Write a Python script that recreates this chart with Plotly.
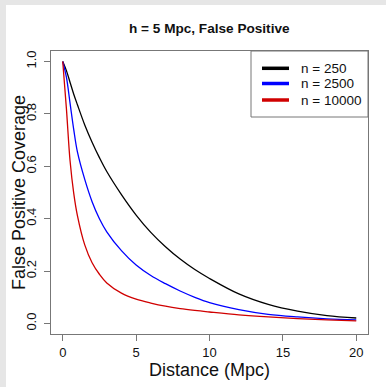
import plotly.graph_objects as go

# Coverage curves: distance grid (Mpc) and coverage per sample size
distance = [0, 0.25, 0.5, 0.75, 1, 1.5, 2, 2.5, 3, 4, 5, 6, 7, 8, 9, 10, 12, 14, 16, 18, 20]
cov_250 = [1.0, 0.965, 0.92, 0.875, 0.835, 0.758, 0.692, 0.633, 0.58, 0.492, 0.414, 0.348,
           0.293, 0.246, 0.206, 0.172, 0.113, 0.073, 0.047, 0.030, 0.021]
cov_2500 = [1.0, 0.94, 0.84, 0.74, 0.655, 0.55, 0.465, 0.40, 0.35, 0.278, 0.223, 0.183,
            0.152, 0.124, 0.100, 0.080, 0.053, 0.035, 0.025, 0.018, 0.014]
cov_10000 = [1.0, 0.82, 0.62, 0.497, 0.412, 0.30, 0.232, 0.188, 0.155, 0.116, 0.093, 0.078,
             0.066, 0.057, 0.050, 0.044, 0.033, 0.025, 0.019, 0.014, 0.010]

series_names = ["n = 250", "n = 2500", "n = 10000"]
series_values = [cov_250, cov_2500, cov_10000]
series_colors = ["#000000", "#0000ff", "#d00000"]

x_ticks = [0, 5, 10, 15, 20]
y_ticks = [0.0, 0.2, 0.4, 0.6, 0.8, 1.0]

FONT = "Liberation Sans, Arial, Helvetica, sans-serif"
W, H = 386, 387
ML, MR, MT, MB = 51, 18, 51, 53
PW, PH = W - ML - MR, H - MT - MB


def px_x(p):
    return (p - ML) / PW


def px_y(p):
    return (H - MB - p) / PH


fig = go.Figure()
for name, vals, col in zip(series_names, series_values, series_colors):
    fig.add_trace(go.Scatter(x=distance, y=vals, mode="lines", name=name,
                             line=dict(color=col, width=1.3, shape="spline", smoothing=1.0),
                             showlegend=False))

axis_col = "#777777"
fig.update_xaxes(range=[-0.8, 20.8], tickvals=x_ticks, ticktext=[str(v) for v in x_ticks],
                 showline=True, mirror=True, linecolor=axis_col, linewidth=1,
                 ticks="outside", ticklen=6, tickcolor=axis_col, tickwidth=1,
                 showgrid=False, zeroline=False,
                 tickfont=dict(family=FONT, size=13, color="#111"))
fig.update_yaxes(range=[-0.04, 1.04], tickvals=y_ticks, ticktext=[f"{v:.1f}" for v in y_ticks],
                 showline=True, mirror=True, linecolor=axis_col, linewidth=1,
                 ticks="outside", ticklen=6, tickcolor=axis_col, tickwidth=1,
                 showgrid=False, zeroline=False, tickangle=-90, ticklabelstandoff=3,
                 tickfont=dict(family=FONT, size=13, color="#111"))

shapes = [
    # white page over the light grey frame
    dict(type="rect", xref="paper", yref="paper", x0=px_x(6), x1=px_x(W + 5),
         y0=px_y(H + 5), y1=px_y(5), fillcolor="white", line=dict(width=0), layer="below"),
    # legend box
    dict(type="rect", xref="paper", yref="paper", x0=px_x(251), x1=1, y0=px_y(117), y1=1,
         fillcolor="rgba(0,0,0,0)", line=dict(color=axis_col, width=1)),
]
annotations = []
legend_rows = [68.3, 83.5, 100]
for name, col, row in zip(series_names, series_colors, legend_rows):
    shapes.append(dict(type="line", xref="paper", yref="paper", x0=px_x(262), x1=px_x(289),
                       y0=px_y(row), y1=px_y(row), line=dict(color=col, width=3.5)))
    annotations.append(dict(text=name, xref="paper", yref="paper", x=px_x(299), y=px_y(row),
                            xanchor="left", yanchor="middle", showarrow=False,
                            font=dict(family=FONT, size=13.5, color="#111")))

annotations += [
    dict(text="<b>h = 5 Mpc, False Positive</b>", xref="paper", yref="paper",
         x=0.5, y=px_y(29), xanchor="center", yanchor="middle", showarrow=False,
         font=dict(family=FONT, size=13.6, color="#111")),
    dict(text="Distance (Mpc)", xref="paper", yref="paper", x=0.5, y=px_y(370),
         xanchor="center", yanchor="middle", showarrow=False,
         font=dict(family=FONT, size=18, color="#111")),
    dict(text="False Positive Coverage", xref="paper", yref="paper", x=px_x(18.5), y=0.5,
         xanchor="center", yanchor="middle", textangle=-90, showarrow=False,
         font=dict(family=FONT, size=18, color="#111")),
]

fig.update_layout(width=W, height=H, margin=dict(l=ML, r=MR, t=MT, b=MB),
                  paper_bgcolor="#e6e6e6", plot_bgcolor="white",
                  shapes=shapes, annotations=annotations, showlegend=False)

fig.write_html("out.html", config={"displayModeBar": False})
